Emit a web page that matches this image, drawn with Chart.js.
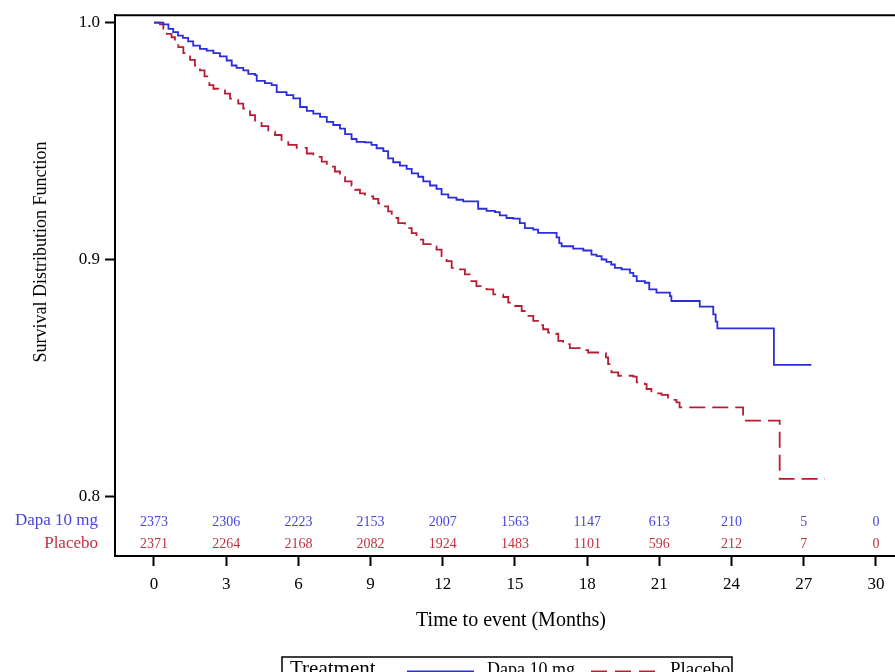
<!DOCTYPE html>
<html>
<head>
<meta charset="utf-8">
<script src="https://cdn.jsdelivr.net/npm/chart.js@4.4.1/dist/chart.umd.min.js"></script>
<style>
  html, body { margin: 0; padding: 0; background: #fff; overflow: hidden; }
  #wrap { width: 900px; height: 672px; }
</style>
</head>
<body>
<div id="wrap"><canvas id="kmChart" width="900" height="672"></canvas></div>
<script>
// Kaplan-Meier estimates (time in months, survival after each drop)
const dapaTimes = [0, 0.39, 0.6, 0.8, 1.0, 1.2, 1.42, 1.63, 1.91, 2.19, 2.47, 2.74, 3.02, 3.23, 3.43, 3.71, 3.92, 4.2, 4.27,
  4.61, 4.89, 5.1, 5.51, 5.79, 6.07, 6.35, 6.62, 6.9, 7.18, 7.45, 7.73, 7.94, 8.21, 8.42, 8.77, 9.04, 9.25, 9.53, 9.73,
  9.94, 10.22, 10.5, 10.71, 10.98, 11.19, 11.47, 11.74, 11.95, 12.23, 12.57, 12.85, 13.47, 13.82, 14.17, 14.37, 14.65,
  14.93, 15.2, 15.41, 15.76, 15.96, 16.73, 16.84, 16.94, 17.42, 17.84, 18.18, 18.39, 18.6, 18.8, 19.0, 19.15, 19.43,
  19.78, 19.92, 20.06, 20.4, 20.58, 20.88, 21.44, 21.5, 22.68, 23.24, 23.34, 23.41, 25.76, 27.32];
const dapaSurv = [1.0, 0.9992, 0.9973, 0.996, 0.9945, 0.9935, 0.9921, 0.9903, 0.9889, 0.9882, 0.9871, 0.9857, 0.984, 0.9819, 0.9809, 0.9798, 0.9784, 0.9778, 0.9754,
  0.9745, 0.9736, 0.9707, 0.9694, 0.968, 0.9644, 0.9628, 0.9616, 0.9602, 0.9581, 0.9568, 0.9553, 0.953, 0.9509, 0.9497, 0.9495, 0.9484, 0.947, 0.9458, 0.9427,
  0.9411, 0.9397, 0.9383, 0.9364, 0.935, 0.933, 0.9313, 0.9299, 0.9276, 0.9262, 0.9253, 0.9246, 0.9215, 0.9206, 0.9201, 0.9187, 0.9176,
  0.9173, 0.9154, 0.9133, 0.9127, 0.9113, 0.9094, 0.907, 0.9057, 0.9047, 0.9039, 0.9022, 0.9015, 0.9001, 0.8991, 0.898, 0.8966, 0.8959,
  0.8945, 0.8931, 0.891, 0.8903, 0.8875, 0.8861, 0.8847, 0.8826, 0.8802, 0.877, 0.8739, 0.8711, 0.8557, 0.8557];

const placeboTimes = [0, 0.25, 0.39, 0.53, 0.73, 0.87, 1.01, 1.22, 1.5, 1.7, 1.91, 2.1, 2.3, 2.47, 2.67, 2.95, 3.16, 3.5,
  3.71, 3.99, 4.2, 4.47, 4.75, 5.03, 5.3, 5.58, 5.93, 6.35, 6.62, 6.97, 7.18, 7.52, 7.73, 7.94, 8.21, 8.35, 8.56, 8.77,
  9.11, 9.32, 9.53, 9.73, 9.88, 10.15, 10.43, 10.71, 10.91, 11.19, 11.53, 11.74, 11.95, 12.16, 12.37, 12.64, 12.92, 13.13,
  13.4, 13.82, 14.1, 14.51, 14.72, 15.0, 15.28, 15.48, 15.76, 15.96, 16.17, 16.38, 16.7, 16.8, 17.0, 17.28, 17.7, 18.04,
  18.67, 18.78, 18.87, 19.01, 19.29, 19.92, 20.06, 20.4, 20.47, 20.67, 21.09, 21.36, 21.71, 21.84, 24.48, 26.0, 27.88];
const placeboSurv = [1.0, 0.9992, 0.9973, 0.9952, 0.9938, 0.9917, 0.9896, 0.9871, 0.9843, 0.9819, 0.9798, 0.9773, 0.9736, 0.9721, 0.9714, 0.97, 0.9679, 0.9658,
  0.9637, 0.961, 0.9581, 0.9563, 0.954, 0.9526, 0.9505, 0.9484, 0.9472, 0.9448, 0.9434, 0.9414, 0.9393, 0.9372, 0.9348, 0.933, 0.9313, 0.9295, 0.928, 0.9267,
  0.9257, 0.9238, 0.9225, 0.9204, 0.9176, 0.9154, 0.9133, 0.9112, 0.9085, 0.9066, 0.9057, 0.9043, 0.9015, 0.8994, 0.8966, 0.8959, 0.8938, 0.891,
  0.8889, 0.8875, 0.8854, 0.8843, 0.8819, 0.8805, 0.8784, 0.8763, 0.8742, 0.8724, 0.8707, 0.8693, 0.8688, 0.8658, 0.8644, 0.8627, 0.8619, 0.8609,
  0.8605, 0.8588, 0.856, 0.8525, 0.8511, 0.8507, 0.8483, 0.8476, 0.8455, 0.8437, 0.843, 0.8409, 0.8399, 0.8378, 0.8322, 0.8076, 0.8076];

// number at risk table
const riskTimes = [0, 3, 6, 9, 12, 15, 18, 21, 24, 27, 30];
const dapaRisk = [2373, 2306, 2223, 2153, 2007, 1563, 1147, 613, 210, 5, 0];
const placeboRisk = [2371, 2264, 2168, 2082, 1924, 1483, 1101, 596, 212, 7, 0];

const xTicks = [0, 3, 6, 9, 12, 15, 18, 21, 24, 27, 30];
const yTicks = [0.8, 0.9, 1.0];

const seriesNames = ["Dapa 10 mg", "Placebo"];
const blue = "#2b2be0";
const red = "#b81c33";
const serif = "'Liberation Serif', 'DejaVu Serif', serif";

function toPoints(ts, ss) {
  return ts.map((t, i) => ({ x: t, y: ss[i] }));
}

// frame top line, at-risk table, axis titles and legend box
const decorations = {
  id: "decorations",
  afterDraw(chart) {
    const ctx = chart.ctx;
    const a = chart.chartArea;
    const xs = chart.scales.x;
    ctx.save();

    // top border
    ctx.strokeStyle = "#000";
    ctx.lineWidth = 2;
    ctx.beginPath();
    ctx.moveTo(a.left, a.top);
    ctx.lineTo(a.right, a.top);
    ctx.stroke();

    // number at risk
    ctx.textAlign = "center";
    ctx.textBaseline = "middle";
    ctx.font = "14px " + serif;
    riskTimes.forEach((t, i) => {
      const px = xs.getPixelForValue(t);
      ctx.fillStyle = "#4545dd";
      ctx.fillText(String(dapaRisk[i]), px, a.bottom - 34);
      ctx.fillStyle = "#c0303f";
      ctx.fillText(String(placeboRisk[i]), px, a.bottom - 12);
    });
    ctx.textAlign = "right";
    ctx.font = "17px " + serif;
    ctx.fillStyle = "#4545dd";
    ctx.fillText(seriesNames[0], 98, a.bottom - 35);
    ctx.fillStyle = "#c0303f";
    ctx.fillText(seriesNames[1], 98, a.bottom - 12);

    // axis titles
    ctx.fillStyle = "#000";
    ctx.textAlign = "center";
    ctx.font = "20px " + serif;
    ctx.fillText("Time to event (Months)", 511, 621);
    ctx.save();
    ctx.translate(41, 252);
    ctx.rotate(-Math.PI / 2);
    ctx.font = "18px " + serif;
    ctx.fillText("Survival Distribution Function", 0, 0);
    ctx.restore();

    // legend box
    ctx.strokeStyle = "#000";
    ctx.lineWidth = 1.5;
    ctx.strokeRect(282, 657, 450, 40);
    ctx.textAlign = "left";
    ctx.textBaseline = "alphabetic";
    ctx.font = "21px " + serif;
    ctx.fillText("Treatment", 290, 675);
    ctx.lineWidth = 1.8;
    ctx.strokeStyle = blue;
    ctx.beginPath();
    ctx.moveTo(407, 671.5);
    ctx.lineTo(474, 671.5);
    ctx.stroke();
    ctx.font = "18px " + serif;
    ctx.fillText(seriesNames[0], 487, 675);
    ctx.strokeStyle = red;
    ctx.setLineDash([16, 8]);
    ctx.beginPath();
    ctx.moveTo(591, 671.5);
    ctx.lineTo(657, 671.5);
    ctx.stroke();
    ctx.setLineDash([]);
    ctx.font = "19px " + serif;
    ctx.fillText(seriesNames[1], 670, 675);

    ctx.restore();
  }
};

const ctx = document.getElementById("kmChart").getContext("2d");
const kmChart = new Chart(ctx, {
  type: "line",
  data: {
    datasets: [{
      label: seriesNames[0],
      data: toPoints(dapaTimes, dapaSurv),
      borderColor: blue,
      borderWidth: 1.8,
      stepped: "before",
      pointRadius: 0,
      fill: false
    }, {
      label: seriesNames[1],
      data: toPoints(placeboTimes, placeboSurv),
      borderColor: red,
      borderWidth: 1.8,
      borderDash: [16, 7],
      stepped: "before",
      pointRadius: 0,
      fill: false
    }]
  },
  options: {
    responsive: false,
    animation: false,
    layout: { padding: { left: 0, top: 13, right: 0, bottom: 0 } },
    plugins: {
      legend: { display: false },
      tooltip: { enabled: false }
    },
    scales: {
      x: {
        type: "linear",
        min: -1.62,
        max: 31.0,
        afterBuildTicks: s => { s.ticks = xTicks.map(v => ({ value: v })); },
        afterFit: s => { s.height = 116; },
        grid: { drawOnChartArea: false, drawTicks: true, tickLength: 10, tickColor: "#000", tickWidth: 2 },
        border: { display: true, color: "#000", width: 2 },
        ticks: { color: "#000", font: { family: serif, size: 17 }, padding: 8, maxRotation: 0 }
      },
      y: {
        min: 0.7751,
        max: 1.0031,
        afterBuildTicks: s => { s.ticks = yTicks.map(v => ({ value: v })); },
        afterFit: s => { s.width = 115; },
        grid: { drawOnChartArea: false, drawTicks: true, tickLength: 10, tickColor: "#000", tickWidth: 2 },
        border: { display: true, color: "#000", width: 2 },
        ticks: { color: "#000", font: { family: serif, size: 17 }, padding: 5, callback: v => v.toFixed(1) }
      }
    }
  },
  plugins: [decorations]
});
</script>
</body>
</html>
